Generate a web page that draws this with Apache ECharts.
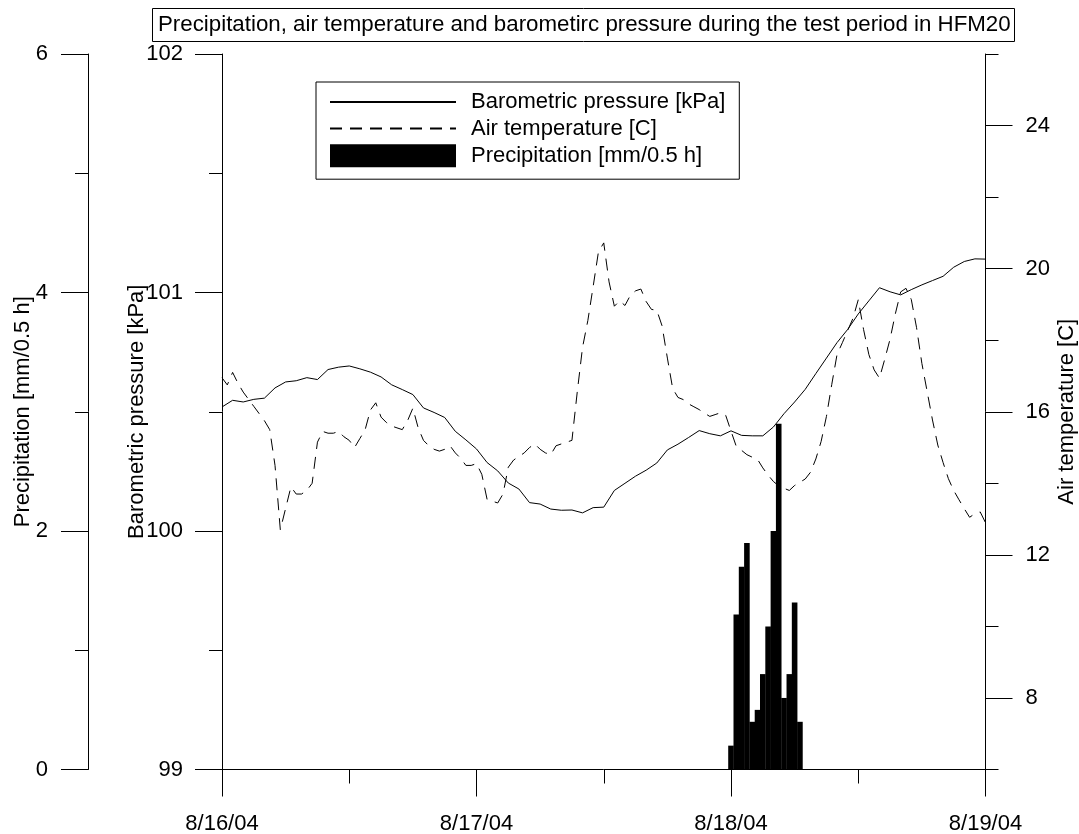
<!DOCTYPE html>
<html>
<head>
<meta charset="utf-8">
<script src="https://cdn.jsdelivr.net/npm/echarts@6/dist/echarts.min.js"></script>
<style>
html,body{margin:0;padding:0;background:#fff;}
#chart{width:1079px;height:834px;}
</style>
</head>
<body>
<div id="chart"></div>
<script>
// ---- data ----
const dateLabels = ['8/16/04', '8/17/04', '8/18/04', '8/19/04'];   // hour 0, 24, 48, 72
const precipLabels = ['0', '2', '4', '6'];

// barometric pressure [kPa], hourly from 8/16/04 00:00 to 8/19/04 00:00
const pressure = [
  100.52,100.548,100.541,100.552,100.557,100.60,100.625,100.63,100.643,100.635,100.677,100.687,
  100.692,100.68,100.666,100.646,100.613,100.593,100.572,100.516,100.497,100.476,100.418,100.382,
  100.344,100.287,100.252,100.201,100.176,100.119,100.113,100.092,100.087,100.088,100.076,100.098,
  100.10,100.17,100.20,100.23,100.255,100.285,100.34,100.364,100.392,100.421,100.408,100.399,
  100.42,100.401,100.399,100.399,100.436,100.492,100.541,100.594,100.66,100.725,100.79,100.845,
  100.91,100.965,101.02,101.003,100.99,101.012,101.032,101.05,101.068,101.106,101.13,101.141,
  101.14
];

// air temperature [C], half-hourly from 8/16/04 00:00 to 8/19/04 00:00
const temperature = [
  16.95,16.75,17.1,16.8,16.55,16.35,16.15,15.95,15.75,15.5,14.5,12.7,
  13.3,13.9,13.7,13.7,13.8,14.0,15.15,15.45,15.4,15.4,15.45,15.3,
  15.2,15.0,15.25,15.5,16.05,16.25,15.85,15.7,15.6,15.55,15.5,15.75,
  16.1,15.55,15.2,15.05,14.95,14.9,14.95,15.05,14.85,14.7,14.5,14.5,
  14.55,14.25,13.55,13.5,13.45,13.7,14.45,14.65,14.75,14.85,15.0,15.1,
  14.95,14.85,14.8,15.05,15.1,15.15,15.2,16.55,17.8,18.55,19.5,20.47,
  20.72,19.63,18.95,19.1,18.97,19.25,19.38,19.43,19.08,18.86,18.84,18.4,
  17.5,16.65,16.4,16.34,16.22,16.14,16.06,15.96,15.87,15.92,15.97,15.9,
  15.46,15.03,14.92,14.8,14.73,14.67,14.43,14.23,14.05,13.93,13.86,13.8,
  13.94,14.03,14.12,14.31,14.68,15.17,15.87,16.76,17.6,17.93,18.27,18.61,
  19.13,18.3,17.6,17.17,16.94,17.47,18.03,18.74,19.35,19.45,19.14,18.35,
  17.35,16.56,15.77,15.07,14.58,14.13,13.8,13.54,13.29,13.05,13.15,13.2,
  12.9
];

// precipitation [mm/0.5 h] at hours after 8/16/04 00:00
const precipHours = [48,48.5,49,49.5,50,50.5,51,51.5,52,52.5,53,53.5,54,54.5];
const precip = [0.2,1.3,1.7,1.9,0.4,0.5,0.8,1.2,2.0,2.9,0.6,0.8,1.4,0.4];

const tempLabelValues = [8, 12, 16, 20, 24];

// ---- chart ----
const FONT = "'Liberation Sans', Arial, sans-serif";
const black = '#000';
const chart = echarts.init(document.getElementById('chart'));

const tickStyle = { color: black, width: 1 };
const axisCommon = {
  splitLine: { show: false },
  minorSplitLine: { show: false },
  axisLine: { show: true, onZero: false, lineStyle: tickStyle },
  axisTick: { show: true, lineStyle: tickStyle },
  axisLabel: { color: black, fontSize: 22, fontFamily: FONT },
  nameMoveOverlap: false,
  nameTextStyle: { color: black, fontSize: 22, fontFamily: FONT }
};

const option = {
  animation: false,
  backgroundColor: '#fff',
  textStyle: { fontFamily: FONT },
  title: {
    text: 'Precipitation, air temperature and barometirc pressure during the test period in HFM20',
    left: 152, top: 8,
    padding: [6, 4, 6, 6],
    borderColor: black, borderWidth: 1,
    textStyle: { fontSize: 22.3, fontWeight: 'normal', color: black, fontFamily: FONT }
  },
  legend: {
    orient: 'vertical',
    left: 316, top: 82,
    padding: [9, 14, 12, 13],
    itemWidth: 126, itemHeight: 23, itemGap: 4.6,
    borderColor: black, borderWidth: 1,
    textStyle: { fontSize: 22, color: black, fontFamily: FONT, padding: [0, 0, 0, 10] },
    data: [
      { name: 'Barometric pressure [kPa]' },
      { name: 'Air temperature [C]' },
      { name: 'Precipitation [mm/0.5 h]', icon: 'rect' }
    ]
  },
  grid: { left: 222, right: 93.5, top: 54, bottom: 64.5, containLabel: false, outerBoundsMode: 'none' },
  xAxis: Object.assign({}, axisCommon, {
    type: 'value', min: 0, max: 72, interval: 24,
    axisTick: { show: true, length: 27, lineStyle: tickStyle },
    minorTick: { show: true, splitNumber: 2, length: 14, lineStyle: tickStyle },
    axisLabel: { color: black, fontSize: 22, fontFamily: FONT, margin: 43,
      formatter: v => dateLabels[Math.round(v / 24)] }
  }),
  yAxis: [
    Object.assign({}, axisCommon, {
      type: 'value', position: 'left', offset: 134,
      min: 0, max: 6, interval: 2,
      axisTick: { show: true, length: 27, lineStyle: tickStyle },
      minorTick: { show: true, splitNumber: 2, length: 13, lineStyle: tickStyle },
      axisLabel: { color: black, fontSize: 22, fontFamily: FONT, margin: 40,
        formatter: v => precipLabels[Math.round(v / 2)] },
      name: 'Precipitation [mm/0.5 h]', nameLocation: 'middle', nameGap: 54, nameRotate: 90
    }),
    Object.assign({}, axisCommon, {
      type: 'value', position: 'left', offset: 0,
      min: 99, max: 102, interval: 1,
      axisTick: { show: true, length: 27, lineStyle: tickStyle },
      minorTick: { show: true, splitNumber: 2, length: 13, lineStyle: tickStyle },
      axisLabel: { color: black, fontSize: 22, fontFamily: FONT, margin: 39 },
      name: 'Barometric pressure [kPa]', nameLocation: 'middle', nameGap: 74, nameRotate: 90
    }),
    Object.assign({}, axisCommon, {
      type: 'value', position: 'right', offset: 0,
      min: 6, max: 26, interval: 2,
      axisTick: { show: true, length: 13, lineStyle: tickStyle },
      axisLabel: { show: false },
      name: 'Air temperature [C]', nameLocation: 'middle', nameGap: 70, nameRotate: 90
    }),
    Object.assign({}, axisCommon, {
      type: 'value', position: 'right', offset: 0,
      min: 6, max: 26, interval: 2,
      axisLine: { show: false, onZero: false },
      axisTick: { show: true, length: 27, customValues: tempLabelValues, lineStyle: tickStyle },
      axisLabel: { color: black, fontSize: 22, fontFamily: FONT, margin: 40, customValues: tempLabelValues }
    })
  ],
  series: [
    {
      name: 'Precipitation [mm/0.5 h]',
      type: 'bar',
      xAxisIndex: 0, yAxisIndex: 0,
      barWidth: 5.6,
      itemStyle: { color: black },
      data: precipHours.map((h, i) => [h, precip[i]])
    },
    {
      name: 'Barometric pressure [kPa]',
      type: 'line',
      xAxisIndex: 0, yAxisIndex: 1,
      symbol: 'none',
      lineStyle: { color: black, width: 1 },
      itemStyle: { color: 'rgba(0,0,0,0)', borderWidth: 0 },
      data: pressure.map((v, i) => [i, v])
    },
    {
      name: 'Air temperature [C]',
      type: 'line',
      xAxisIndex: 0, yAxisIndex: 2,
      symbol: 'none',
      lineStyle: { color: black, width: 1, type: [12, 8] },
      itemStyle: { color: 'rgba(0,0,0,0)', borderWidth: 0 },
      data: temperature.map((v, i) => [i * 0.5, v])
    }
  ]
};
chart.setOption(option);
</script>
</body>
</html>
